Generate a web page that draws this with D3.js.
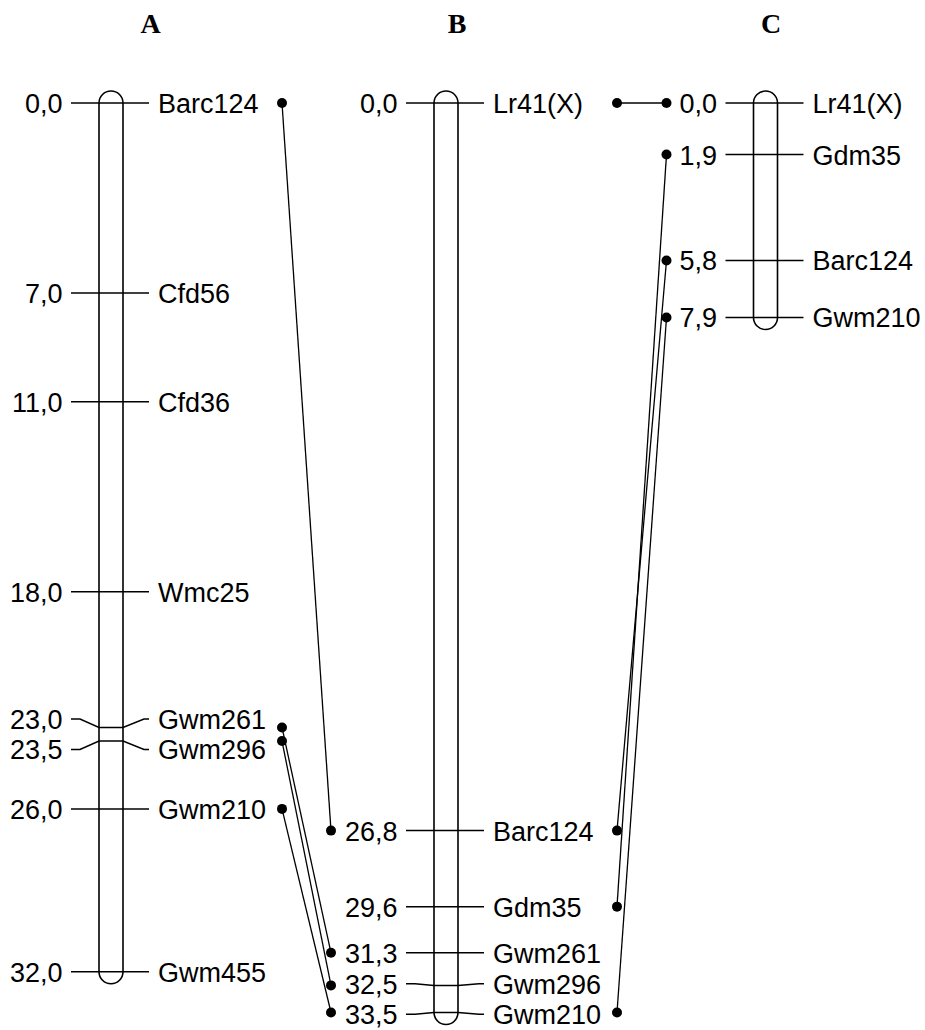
<!DOCTYPE html>
<html>
<head>
<meta charset="utf-8">
<script src="https://cdn.jsdelivr.net/npm/d3@7"></script>
<style>
  html, body { margin: 0; padding: 0; background: #fff; }
  svg { display: block; }
</style>
</head>
<body>
<svg id="chart" width="925" height="1030"></svg>
<script>
// ---------- data ----------
const chromNames = ["A", "B", "C"];
const markersA = ["Barc124", "Cfd56", "Cfd36", "Wmc25", "Gwm261", "Gwm296", "Gwm210", "Gwm455"];
const posA     = [0.0, 7.0, 11.0, 18.0, 23.0, 23.5, 26.0, 32.0];
const markersB = ["Lr41(X)", "Barc124", "Gdm35", "Gwm261", "Gwm296", "Gwm210"];
const posB     = [0.0, 26.8, 29.6, 31.3, 32.5, 33.5];
const markersC = ["Lr41(X)", "Gdm35", "Barc124", "Gwm210"];
const posC     = [0.0, 1.9, 5.8, 7.9];
const linksAB  = ["Barc124", "Gwm261", "Gwm296", "Gwm210"];
const linksBC  = ["Lr41(X)", "Barc124", "Gdm35", "Gwm210"];

// ---------- layout ----------
const layout = {
  A: { cx: 111, titleX: 150.5, dotRight: 171, dotLeft: null },
  B: { cx: 446, titleX: 457,   dotRight: 171, dotLeft: -115 },
  C: { cx: 765.5, titleX: 771, dotRight: null, dotLeft: -99 }
};
const halfW = 12, tickL = 40, tickR = 38, labelGap = 30.5;
const fontSans = "'Liberation Sans', Arial, sans-serif";
const fontSerif = "'Liberation Serif', 'Times New Roman', serif";

const y = d3.scaleLinear().domain([0, 33.5]).range([103, 103 + 33.5 * 27.15]);
const fmt = v => d3.format(".1f")(v).replace(".", ",");

const svg = d3.select("#chart");

const chroms = [
  { name: "A", markers: markersA, pos: posA },
  { name: "B", markers: markersB, pos: posB },
  { name: "C", markers: markersC, pos: posC }
];

function spread(ys) {
  const ly = ys.slice();
  for (let it = 0; it < 200; it++) {
    let moved = false;
    for (let i = 0; i < ly.length - 1; i++) {
      const d = ly[i + 1] - ly[i];
      if (d < labelGap - 0.01) {
        const push = (labelGap - d) / 2;
        ly[i] -= push; ly[i + 1] += push; moved = true;
      }
    }
    if (!moved) break;
  }
  return ly;
}

const markerInfo = {};
chroms.forEach((ch, ci) => {
  const L = layout[ch.name];
  const cx = L.cx;
  const my = ch.pos.map(p => y(p));
  const ly = spread(my);
  markerInfo[ch.name] = {};
  ch.markers.forEach((m, i) => { markerInfo[ch.name][m] = { y: my[i], ly: ly[i] }; });

  const g = svg.append("g");
  // title
  g.append("text")
    .attr("x", L.titleX).attr("y", 33)
    .attr("text-anchor", "middle")
    .attr("font-family", fontSerif)
    .attr("font-weight", "bold")
    .attr("font-size", 28)
    .text(chromNames[ci]);

  // chromosome bar
  const y0 = d3.min(my), y1 = d3.max(my);
  g.append("rect")
    .attr("x", cx - halfW).attr("y", y0 - halfW)
    .attr("width", 2 * halfW).attr("height", y1 - y0 + 2 * halfW)
    .attr("rx", halfW).attr("ry", halfW)
    .attr("fill", "none").attr("stroke", "#000").attr("stroke-width", 1.6);

  // ticks and labels
  ch.markers.forEach((m, i) => {
    const a = my[i], b = ly[i];
    const path = d3.path();
    if (Math.abs(a - b) < 0.5) {
      path.moveTo(cx - tickL, a); path.lineTo(cx + tickR, a);
    } else {
      path.moveTo(cx - tickL, b); path.lineTo(cx - 31, b);
      path.lineTo(cx - halfW, a); path.lineTo(cx + halfW, a);
      path.lineTo(cx + 33, b); path.lineTo(cx + tickR, b);
    }
    g.append("path").attr("d", path.toString())
      .attr("fill", "none").attr("stroke", "#000").attr("stroke-width", 1.5);

    g.append("text")
      .attr("x", cx - 48.5).attr("y", b + 10)
      .attr("text-anchor", "end")
      .attr("font-family", fontSans).attr("font-size", 27)
      .text(fmt(ch.pos[i]));
    g.append("text")
      .attr("x", cx + 47).attr("y", b + 10)
      .attr("text-anchor", "start")
      .attr("font-family", fontSans).attr("font-size", 27)
      .text(m);
  });
});

// links between homologous markers
function drawLinks(from, to, names) {
  const Lf = layout[from], Lt = layout[to];
  names.forEach(n => {
    const a = markerInfo[from][n], b = markerInfo[to][n];
    const x1 = Lf.cx + Lf.dotRight, x2 = Lt.cx + Lt.dotLeft;
    svg.append("line")
      .attr("x1", x1).attr("y1", a.y).attr("x2", x2).attr("y2", b.y)
      .attr("stroke", "#000").attr("stroke-width", 1.3);
    svg.append("circle").attr("cx", x1).attr("cy", a.y).attr("r", 5).attr("fill", "#000");
    svg.append("circle").attr("cx", x2).attr("cy", b.y).attr("r", 5).attr("fill", "#000");
  });
}
drawLinks("A", "B", linksAB);
drawLinks("B", "C", linksBC);
</script>
</body>
</html>
